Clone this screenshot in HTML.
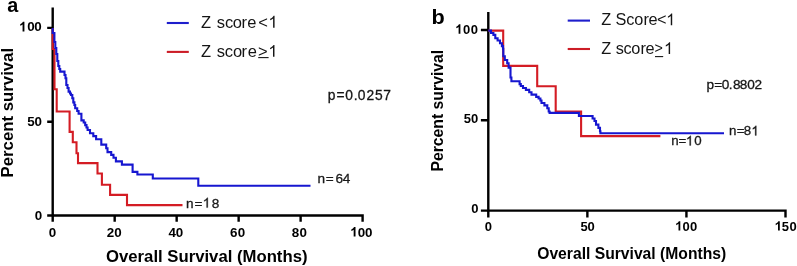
<!DOCTYPE html>
<html><head><meta charset="utf-8"><style>
html,body{margin:0;padding:0;background:#fff;width:797px;height:266px;overflow:hidden}
svg{display:block;font-family:"Liberation Sans", sans-serif;will-change:transform}
</style></head><body>
<svg width="797" height="266" viewBox="0 0 797 266">
<rect width="797" height="266" fill="#fff"/>
<text id="t1" x="7.2" y="11.5" font-size="19.8" font-weight="bold" fill="#000" text-anchor="start">a</text>
<path d="M52.7 7.5V216.7M51.5 215.5H363.8M47.2 27.9H52.7M47.2 121.7H52.7M47.2 215.5H52.7M52.7 215V221.7M114.68 215V221.7M176.66 215V221.7M238.64 215V221.7M300.62 215V221.7M362.6 215V221.7" stroke="#000" stroke-width="2.4" fill="none"/>
<text x="27.27 34.37" y="31.4" font-size="13.4" font-weight="bold" fill="#000">00</text><path d="M843 0L562 0L562 1059Q408 915 199 846L199 1101Q309 1137 438 1238Q567 1339 615 1472L843 1472Z" fill="#000" transform="translate(18.90,31.40) scale(0.00654,-0.00654)"/>
<text x="27.29 34.57" y="125.7" font-size="13.4" font-weight="bold" fill="#000">50</text>
<text x="34.67" y="220.3" font-size="13.4" font-weight="bold" fill="#000">0</text>
<text x="48.67" y="236.6" font-size="13.4" font-weight="bold" fill="#000">0</text>
<text x="106.74 114.17" y="236.6" font-size="13.4" font-weight="bold" fill="#000">20</text>
<text x="168.40 175.87" y="236.6" font-size="13.4" font-weight="bold" fill="#000">40</text>
<text x="230.11 237.87" y="236.6" font-size="13.4" font-weight="bold" fill="#000">60</text>
<text x="291.87 299.57" y="236.6" font-size="13.4" font-weight="bold" fill="#000">80</text>
<text x="357.67 364.97" y="236.6" font-size="13.4" font-weight="bold" fill="#000">00</text><path d="M843 0L562 0L562 1059Q408 915 199 846L199 1101Q309 1137 438 1238Q567 1339 615 1472L843 1472Z" fill="#000" transform="translate(350.00,236.60) scale(0.00654,-0.00654)"/>
<text id="t2" x="106" y="262.1" font-size="16.6" font-weight="bold" fill="#000" text-anchor="start" textLength="201.5" lengthAdjust="spacingAndGlyphs">Overall Survival (Months)</text>
<text id="t3" transform="translate(12.7,177.4) rotate(-90)" font-size="16.6" font-weight="bold" fill="#000" text-anchor="start" textLength="129.5" lengthAdjust="spacingAndGlyphs">Percent survival</text>
<path d="M166.8 23H188.8" stroke="#1e1ecc" stroke-width="2.1"/>
<path d="M166.8 51.9H188.8" stroke="#cc1c26" stroke-width="2.1"/>
<text x="200.88 210.96 216.74 225.00 232.81 241.50 247.20 258.29" y="27.7" font-size="16.5" fill="#151515">Z score&lt;</text><path d="M763 0L583 0L583 1147Q518 1085 412 1023Q306 961 222 930L222 1104Q373 1175 486 1276Q599 1377 646 1472L763 1472Z" fill="#151515" transform="translate(268.41,27.70) scale(0.00806,-0.00806)"/>
<text x="200.88 210.96 216.84 224.80 233.11 241.60 247.70 258.09" y="56.8" font-size="16.5" fill="#151515">Z score&gt;</text><path d="M763 0L583 0L583 1147Q518 1085 412 1023Q306 961 222 930L222 1104Q373 1175 486 1276Q599 1377 646 1472L763 1472Z" fill="#151515" transform="translate(268.31,56.80) scale(0.00806,-0.00806)"/>
<path d="M258.2 57.6H268.6" stroke="#151515" stroke-width="1.1"/>
<text x="327.81 336.43 345.36 353.84 357.76 366.41 375.05 383.29" y="99.5" font-size="13.8" fill="#151515" stroke="#151515" stroke-width="0.3">p=0.0257</text>
<text x="317.50 325.84 335.51 342.79" y="182.5" font-size="13.6" fill="#1a1a1a" stroke="#1a1a1a" stroke-width="0.3">n=64</text>
<text x="186.10 194.44 211.71" y="207.6" font-size="13.6" fill="#1a1a1a" stroke="#1a1a1a" stroke-width="0.3">n=8</text><path d="M763 0L583 0L583 1147Q518 1085 412 1023Q306 961 222 930L222 1104Q373 1175 486 1276Q599 1377 646 1472L763 1472Z" fill="#1a1a1a" stroke="#1a1a1a" stroke-width="45.2" transform="translate(202.73,207.60) scale(0.00664,-0.00664)"/>
<path d="M52.7 28V49H54.5V89.2H56.7V111.5H69.6V131.9H72.8V142.3H76.5V153.3H78V163.1H97.5V173.5H101.9V184.8H110.1V194.9H127V205.1H182.5" stroke="#d41c24" stroke-width="2.1" fill="none"/>
<path d="M52.7 28H52.7V33H54.4V42H55.3V48H56.3V54H57.3V61H58.3V66H59.3V69H60.2V71.6H64.5V75H65.5V78.2H66.3V85H67.5V88H68.6V91.6H70V93.5H71V95H72.3V98.2H73.3V102.4H74.4V105H75.2V108.2H77.2V111H78.6V113.8H81.4V120.4H83.7V122.5H85.2V125.1H86.5V127.5H87.6V130H90V133.3H93.3V136.1H96.1V139.2H101.3V144.6H106.2V148.3H107.5V152.1H111.2V154.9H113.5V157.7H115.9V161.4H121.9V164.6H132.6V171.9H137.4V174.5H152.8V178.5H198.3V185.7H310.5V185.7" stroke="#1616d0" stroke-width="2.1" fill="none"/>
<text transform="translate(431.6,23.5) scale(1.11,1)" font-size="19.5" font-weight="bold">b</text>
<path d="M488.3 12V211.8M487.1 210.6H786.7M480.9 30.0H488.3M480.9 120.3H488.3M480.9 210.6H488.3M488.3 210V217.5M587.37 210V217.5M686.43 210V217.5M785.5 210V217.5" stroke="#000" stroke-width="2.4" fill="none"/>
<text x="462.99 470.79" y="33.7" font-size="13.0" font-weight="bold" fill="#000">00</text><path d="M843 0L562 0L562 1059Q408 915 199 846L199 1101Q309 1137 438 1238Q567 1339 615 1472L843 1472Z" fill="#000" transform="translate(455.04,33.70) scale(0.00635,-0.00635)"/>
<text x="463.80 471.09" y="122.9" font-size="13.0" font-weight="bold" fill="#000">50</text>
<text x="471.29" y="213.2" font-size="13.0" font-weight="bold" fill="#000">0</text>
<text x="484.69" y="230.5" font-size="13.0" font-weight="bold" fill="#000">0</text>
<text x="580.40 587.59" y="230.5" font-size="13.0" font-weight="bold" fill="#000">50</text>
<text x="682.49 690.09" y="230.5" font-size="13.0" font-weight="bold" fill="#000">00</text><path d="M843 0L562 0L562 1059Q408 915 199 846L199 1101Q309 1137 438 1238Q567 1339 615 1472L843 1472Z" fill="#000" transform="translate(674.94,230.50) scale(0.00635,-0.00635)"/>
<text x="781.80 789.59" y="230.5" font-size="13.0" font-weight="bold" fill="#000">50</text><path d="M843 0L562 0L562 1059Q408 915 199 846L199 1101Q309 1137 438 1238Q567 1339 615 1472L843 1472Z" fill="#000" transform="translate(774.44,230.50) scale(0.00635,-0.00635)"/>
<text id="t4" x="537.2" y="258.7" font-size="16.4" font-weight="bold" fill="#000" text-anchor="start" textLength="189" lengthAdjust="spacingAndGlyphs">Overall Survival (Months)</text>
<text id="t5" transform="translate(443.2,171.6) rotate(-90)" font-size="16.4" font-weight="bold" fill="#000" text-anchor="start" textLength="121.8" lengthAdjust="spacingAndGlyphs">Percent survival</text>
<path d="M567.7 20.6H590" stroke="#1e1ecc" stroke-width="2.1"/>
<path d="M567.7 49H590" stroke="#cc1c26" stroke-width="2.1"/>
<text x="601.18 611.14 615.46 626.21 634.32 643.42 648.61 656.90" y="25.2" font-size="16.3" fill="#151515">Z Score&lt;</text><path d="M763 0L583 0L583 1147Q518 1085 412 1023Q306 961 222 930L222 1104Q373 1175 486 1276Q599 1377 646 1472L763 1472Z" fill="#151515" transform="translate(666.13,25.20) scale(0.00796,-0.00796)"/>
<text x="601.18 611.14 615.75 623.61 631.22 640.42 645.51" y="53.9" font-size="16.3" fill="#151515">Z score</text><path d="M763 0L583 0L583 1147Q518 1085 412 1023Q306 961 222 930L222 1104Q373 1175 486 1276Q599 1377 646 1472L763 1472Z" fill="#151515" transform="translate(664.03,53.90) scale(0.00796,-0.00796)"/>
<text x="654.39" y="52.6" font-size="14.3" fill="#151515">&gt;</text>
<path d="M655 56.6H663.2" stroke="#151515" stroke-width="1.1"/>
<text x="706.42 714.14 721.67 728.76 733.11 739.81 747.37 754.62" y="89.4" font-size="13.6" fill="#151515" stroke="#151515" stroke-width="0.3">p=0.8802</text>
<text x="729.02 736.75 743.82" y="135.4" font-size="13.3" fill="#1a1a1a" stroke="#1a1a1a" stroke-width="0.3">n=8</text><path d="M763 0L583 0L583 1147Q518 1085 412 1023Q306 961 222 930L222 1104Q373 1175 486 1276Q599 1377 646 1472L763 1472Z" fill="#1a1a1a" stroke="#1a1a1a" stroke-width="46.2" transform="translate(751.36,135.40) scale(0.00649,-0.00649)"/>
<text x="671.32 678.45 694.28" y="145.4" font-size="13.3" fill="#1a1a1a" stroke="#1a1a1a" stroke-width="0.3">n=0</text><path d="M763 0L583 0L583 1147Q518 1085 412 1023Q306 961 222 930L222 1104Q373 1175 486 1276Q599 1377 646 1472L763 1472Z" fill="#1a1a1a" stroke="#1a1a1a" stroke-width="46.2" transform="translate(685.86,145.40) scale(0.00649,-0.00649)"/>
<path d="M488.3 30.6H503.2V65.9H537.2V86.3H555.7V111.5H581.1V136.1H660.4" stroke="#d41c24" stroke-width="2.1" fill="none"/>
<path d="M488.3 30.6H491V33H493.4V34.9H495.3V38.2H497.6V40.5H500V43.3H501.9V46.1H503V48.8H503.3V56.3H504.8V60H507.2V63.3H508.6V67.6H510.5V72.3H510.5V77.5H511.4V81.3H519.6V84.1H520.8V86H523V88H525.9V89.9H529.2V92.2H531.5V94.6H536.2V96.9H538.6V98.5H540.4V100.5H541.5V103H544.4V105.4H547.3V108.2H548.7V111.5H549.6V112.9H578.9V116H592.6V118.5H594.5V121H596V124.6H598.4V127.9H600V131.2H600.4V133.2H724V133.2" stroke="#1616d0" stroke-width="2.1" fill="none"/>
</svg>
</body></html>
